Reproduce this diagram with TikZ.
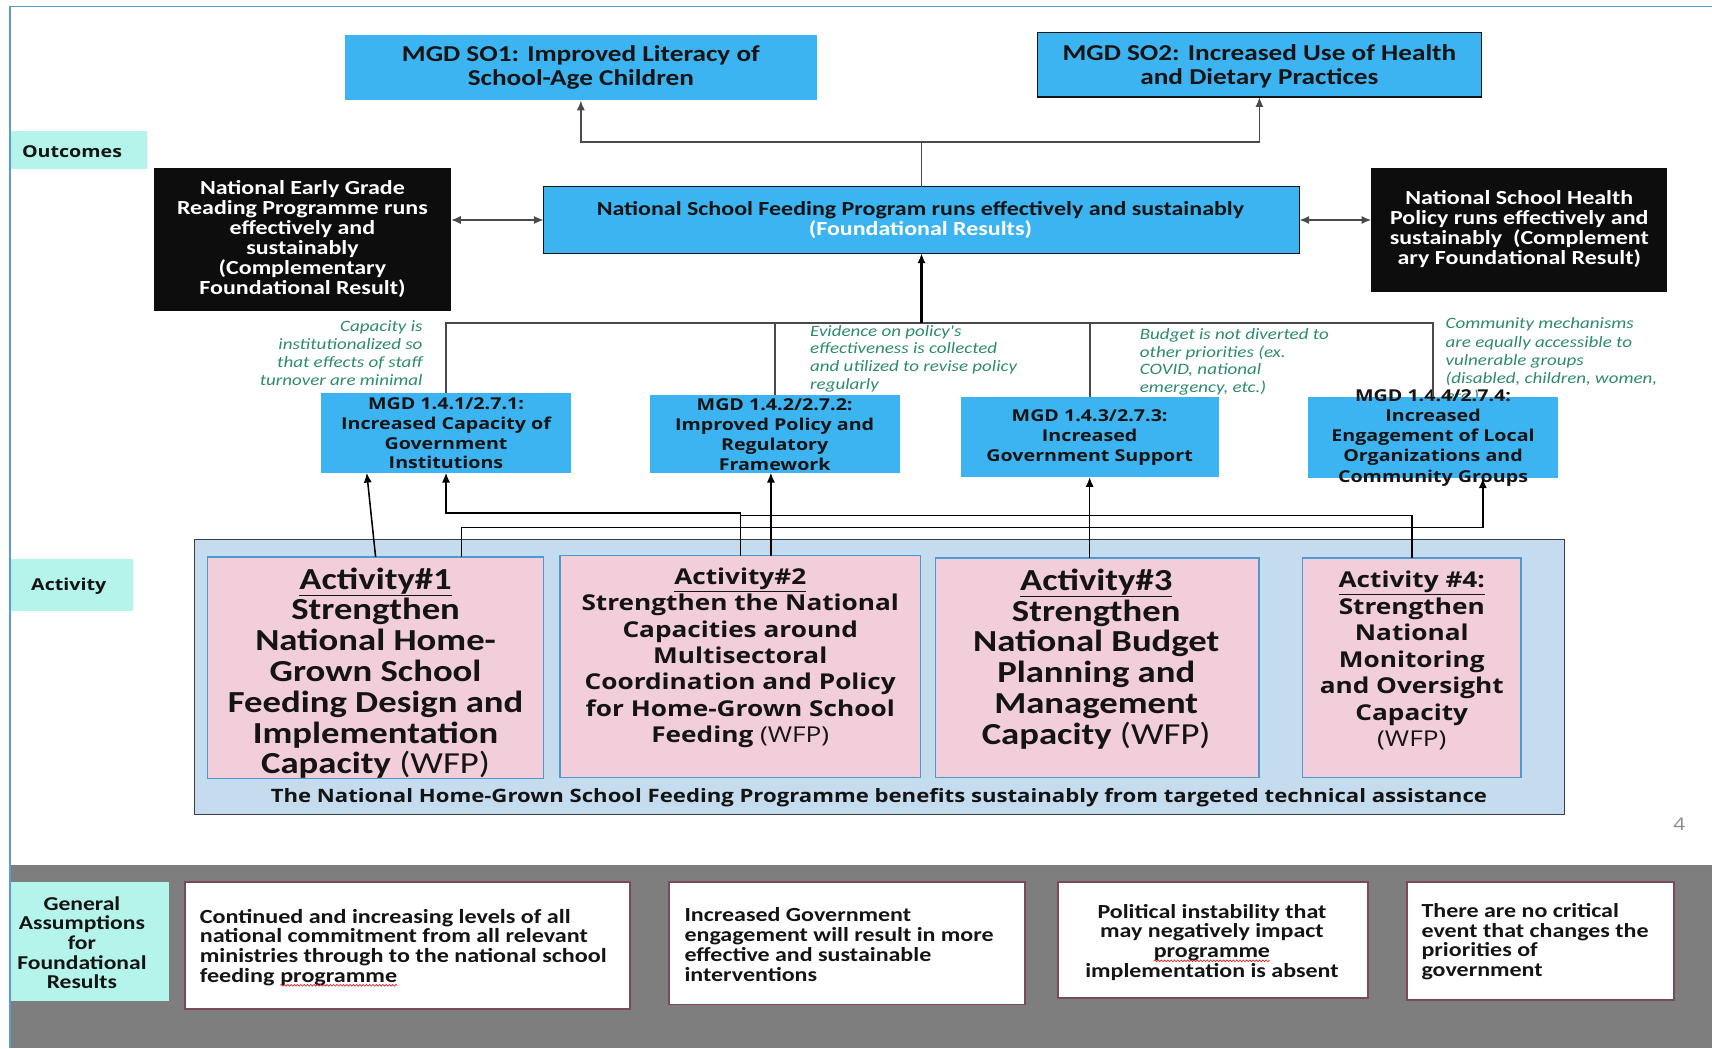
\documentclass[tikz,border=0pt]{standalone}
\usepackage{fontspec}
\setmainfont{Carlito}
\newfontfamily\calfont{Carlito}[FakeStretch=1.2]
\newfontfamily\osn{Open Sans}[FakeStretch=1.2]
\usetikzlibrary{arrows.meta,calc,decorations.pathmorphing}

\definecolor{skyblue}{HTML}{3DB4F2}
\definecolor{mint}{HTML}{B4F4EA}
\definecolor{boxblack}{HTML}{0D0D0D}
\definecolor{inkdark}{HTML}{141414}
\definecolor{notegreen}{HTML}{2E8B6E}
\definecolor{linegray}{HTML}{4A4A4A}
\definecolor{actpink}{HTML}{F2CDDA}
\definecolor{actedge}{HTML}{4A9AD4}
\definecolor{contblue}{HTML}{C5DCEF}
\definecolor{contedge}{HTML}{3C3C46}
\definecolor{bandgray}{HTML}{7E7E7E}
\definecolor{asmedge}{HTML}{7A4A58}
\definecolor{frameblue}{HTML}{5B9BD5}
\definecolor{pagegray}{HTML}{8A8A8A}
\definecolor{spellred}{HTML}{E02020}

\newcommand\setfs[2]{\fontsize{#1}{#2}\selectfont}
% red wavy underline under a word
\newcommand\spellwave[1]{\tikz[baseline=(sw.base)]{\node[inner sep=0pt,outer sep=0pt,anchor=base] (sw) at (0,0) {#1};
  \draw[spellred, line width=0.6pt, decorate, decoration={snake, amplitude=0.8pt, segment length=3pt}]
    ([yshift=-3pt]sw.base west) -- ([yshift=-3pt]sw.base east);}}

\begin{document}
\begin{tikzpicture}[x=1pt,y=-1pt,
  blk/.style={rectangle, inner sep=0pt, outer sep=0pt},
  bluebox/.style={blk, fill=skyblue},
  darkbox/.style={blk, fill=boxblack},
  tag/.style={blk, fill=mint},
  actbox/.style={blk, fill=actpink, draw=actedge, line width=1.3pt},
  asmbox/.style={blk, fill=white, draw=asmedge, line width=1.8pt},
  txt/.style={inner sep=0pt, outer sep=0pt, align=center, text=inkdark},
  note/.style={inner sep=0pt, outer sep=0pt, text=notegreen, font=\calfont\itshape\setfs{14.5}{16.3}},
  conn/.style={draw=linegray, line width=1.6pt},
  aconn/.style={draw=black, line width=1.4pt},
  tip/.style={-{Latex[length=9pt,width=7.5pt]}},
  twoway/.style={conn, {Latex[length=9pt,width=7.5pt]}-{Latex[length=9pt,width=7.5pt]}}
]
\fill[white] (0,0) rectangle (1568,960);
\useasboundingbox (0,0) rectangle (1568,960);

% grey assumptions band and slide frame
\fill[bandgray] (9,792) rectangle (1568,960);
\draw[frameblue, line width=1.6pt] (9,960) -- (9,6) -- (1568,6);

% ---------- strategic objectives ----------
\node[bluebox, minimum width=432, minimum height=60] (so1) at (532,62) {};
\node[txt, font=\calfont\bfseries\setfs{20.8}{22}] (so1t) at (532,62)
  {MGD SO1: Improved Literacy of\\School-Age Children};
\node[bluebox, draw=inkdark, line width=1.3pt, minimum width=407, minimum height=59] (so2) at (1153.5,59.5) {};
\node[txt, font=\calfont\bfseries\setfs{20.8}{22}] (so2t) at (1153.5,61)
  {MGD SO2: Increased Use of Health\\and Dietary Practices};

\node[tag, minimum width=125, minimum height=35] (lout) at (72.5,137.5) {};
\node[txt, font=\osn\bfseries\setfs{15}{18}] (loutt) at (66,138.5) {Outcomes};

% ---------- foundational results ----------
\node[bluebox, draw=inkdark, line width=1.3pt, minimum width=692, minimum height=61] (nsf) at (844,201.5) {};
\node[txt, font=\calfont\bfseries\setfs{18.3}{19}] (nsft) at (843,201.5)
  {National School Feeding Program runs effectively and sustainably\\\textcolor{white}{(Foundational Results)}};

\node[darkbox, minimum width=272, minimum height=131] (egr) at (277,219.5) {};
\node[txt, text=white, font=\calfont\bfseries\setfs{18.3}{18.2}] (egrt) at (277,219)
  {National Early Grade\\Reading Programme runs\\effectively and\\sustainably\\(Complementary\\Foundational Result)};
\node[darkbox, minimum width=271, minimum height=113] (shp) at (1391.5,210.5) {};
\node[txt, text=white, font=\calfont\bfseries\setfs{18.3}{18.3}] (shpt) at (1391.5,210)
  {National School Health\\Policy runs effectively and\\sustainably\ \ (Complement\\ary Foundational Result)};

\coordinate (split) at (nsf.north |- 0,130);
\draw[conn] (nsf.north) -- (split);
\draw[conn, tip] (split) -| (so1.south);
\draw[conn, tip] (split) -| (so2.south);
\draw[twoway] (egr.east |- nsf.west) -- (nsf.west);
\draw[twoway] (nsf.east) -- (shp.west |- nsf.east);

% ---------- assumptions on the result links ----------
\node[note, anchor=east, align=right] (n1) at (387,323.5)
  {Capacity is\\institutionalized so\\that effects of staff\\turnover are minimal};
\node[note, anchor=west, align=left] (n2) at (742,328.5)
  {Evidence on policy's\\effectiveness is collected\\and utilized to revise policy\\regularly};
\node[note, anchor=west, align=left] (n3) at (1044,331.5)
  {Budget is not diverted to\\other priorities (ex.\\COVID, national\\emergency, etc.)};
\node[note, anchor=west, align=left, font=\calfont\itshape\setfs{14.5}{16.7}] (n4) at (1324,330.5)
  {Community mechanisms\\are equally accessible to\\vulnerable groups\\(disabled, children, women,\\etc.)};

% ---------- MGD results ----------
\node[bluebox, minimum width=229, minimum height=73] (m1) at (408.5,396.5) {};
\node[txt, font=\osn\bfseries\setfs{15}{18}] (m1t) at (408.5,397)
  {MGD 1.4.1/2.7.1:\\Increased Capacity of\\Government\\Institutions};
\node[bluebox, minimum width=229, minimum height=71] (m2) at (709.5,397.5) {};
\node[txt, font=\osn\bfseries\setfs{15}{18.3}] (m2t) at (709.5,398.5)
  {MGD 1.4.2/2.7.2:\\Improved Policy and\\Regulatory\\Framework};
\node[bluebox, minimum width=236, minimum height=73] (m3) at (998,400.5) {};
\node[txt, font=\osn\bfseries\setfs{15}{18.5}] (m3t) at (998,401)
  {MGD 1.4.3/2.7.3:\\Increased\\Government Support};
\node[bluebox, minimum width=229, minimum height=74] (m4) at (1312.5,401) {};
\node[txt, font=\osn\bfseries\setfs{15}{18.5}] (m4t) at (1312.5,401)
  {MGD 1.4.4/2.7.4:\\Increased\\Engagement of Local\\Organizations and\\Community Groups};

\coordinate (bus) at (nsf.south |- 0,296);
\draw[conn] (m1.north) |- (bus) -| (m4.north);
\draw[conn] (m2.north) -- (m2.north |- bus);
\draw[conn] (m3.north) -- (m3.north |- bus);
\draw[draw=black, line width=2.6pt, tip] (bus) -- (nsf.south);

% ---------- activities ----------
\node[tag, minimum width=112, minimum height=48] (lact) at (66,536) {};
\node[txt, font=\osn\bfseries\setfs{15}{18}] (lactt) at (63,537) {Activity};

\node[blk, fill=contblue, draw=contedge, line width=1.5pt, minimum width=1255, minimum height=252] (cont) at (805.5,620) {};
\node[actbox, minimum width=308, minimum height=203] (a1) at (344,611.5) {};
\node[actbox, minimum width=330, minimum height=203] (a2) at (678,610.5) {};
\node[actbox, minimum width=296, minimum height=201] (a3) at (1005,611.5) {};
\node[actbox, minimum width=200, minimum height=201] (a4) at (1293,611.5) {};

\node[txt, font=\calfont\bfseries\setfs{28}{28.2}] (a1t) at (344,616.5)
  {\underline{Activity\#1}\\Strengthen\\National Home-\\Grown School\\Feeding Design and\\Implementation\\Capacity {\mdseries (WFP)}};
\node[txt, font=\osn\bfseries\setfs{20}{24.2}] (a2t) at (678,602.5)
  {\underline{Activity\#2}\\Strengthen the National\\Capacities around\\Multisectoral\\Coordination and Policy\\for Home-Grown School\\Feeding {\mdseries (WFP)}};
\node[txt, font=\calfont\bfseries\setfs{28}{28.2}] (a3t) at (1004,603.5)
  {\underline{Activity\#3}\\Strengthen\\National Budget\\Planning and\\Management\\Capacity {\mdseries (WFP)}};
\node[txt, font=\osn\bfseries\setfs{20}{24.3}] (a4t) at (1293,605)
  {\underline{Activity \#4:}\\Strengthen\\National\\Monitoring\\and Oversight\\Capacity\\{\mdseries (WFP)}};
\node[txt, font=\osn\bfseries\setfs{16.9}{19}] (contt) at (805,731)
  {The National Home-Grown School Feeding Programme benefits sustainably from targeted technical assistance};

% activity-to-result links
\coordinate (a1r) at ($(a1.north west)!0.756!(a1.north east)$);
\coordinate (a2r) at ($(a2.north west)!0.585!(a2.north east)$);
\coordinate (m1in) at ($(m1.south west)!0.183!(m1.south east)$);
\coordinate (m4in) at ($(m4.south west)!0.699!(m4.south east)$);
\draw[aconn, tip] (a1.north) -- (m1in);
\draw[aconn, tip] (a2.north) |- (m1.south |- 0,470) -- (m1.south);
\draw[aconn] (a4.north) |- (a2.north |- 0,472);
\draw[aconn, tip] (a1r) |- (m4in |- 0,483) -- (m4in);
\draw[aconn, tip] (a2r) -- (a2r |- m2.south);
\draw[aconn, tip] (m3.south |- a3.north) -- (m3.south);

\node[txt, text=pagegray, font=\osn\setfs{16}{16}] (pg) at (1538,755) {4};

% ---------- general assumptions ----------
\node[tag, minimum width=145, minimum height=109] (lga) at (82.5,862.5) {};
\node[txt, font=\calfont\bfseries\setfs{18}{18}] (lgat) at (75,863.5)
  {General\\Assumptions\\for\\Foundational\\Results};

\node[asmbox, minimum width=408, minimum height=116] (b1) at (373,866) {};
\node[txt, anchor=west, align=left, font=\calfont\bfseries\setfs{18.4}{18}] (b1t) at (183,868)
  {Continued and increasing levels of all\\national commitment from all relevant\\ministries through to the national school\\feeding \spellwave{programme}};
\node[asmbox, minimum width=326, minimum height=112] (b2) at (776,864) {};
\node[txt, anchor=west, align=left, font=\calfont\bfseries\setfs{18.3}{18.3}] (b2t) at (627,865)
  {Increased Government\\engagement will result in more\\effective and sustainable\\interventions};
\node[asmbox, minimum width=284, minimum height=106] (b3) at (1111,861) {};
\node[txt, font=\calfont\bfseries\setfs{18.3}{18}] (b3t) at (1110,863)
  {Political instability that\\may negatively impact\\\spellwave{programme}\\implementation is absent};
\node[asmbox, minimum width=244, minimum height=108] (b4) at (1411,862) {};
\node[txt, anchor=west, align=left, font=\calfont\bfseries\setfs{18.3}{18}] (b4t) at (1302,862.5)
  {There are no critical\\event that changes the\\priorities of\\government};
\end{tikzpicture}
\end{document}
